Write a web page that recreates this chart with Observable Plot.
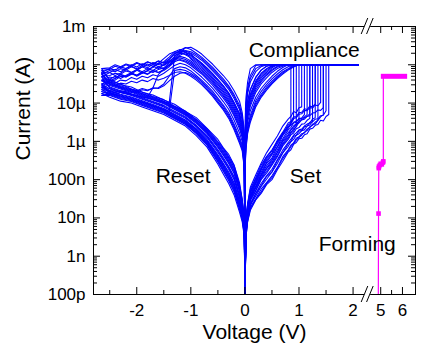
<!DOCTYPE html>
<html><head><meta charset="utf-8">
<script src="https://cdn.jsdelivr.net/npm/d3@7"></script>
<script src="https://cdn.jsdelivr.net/npm/@observablehq/plot@0.6"></script>
<style>body{margin:0;background:#fff}</style>
</head><body><div id="chart"></div>
<script>
// ---------- data (log10 of current in A) ----------
// set (HRS, positive forward) voltage grid; each cycle ends at its set voltage
const vSet = [0.02,0.05,0.1,0.2,0.3,0.4,0.5,0.6,0.7,0.8,0.85,0.9,0.95,1.0,1.05,1.1,1.15,1.2,1.25,1.3,1.35,1.4,1.45,1.5,1.55];
const setCur = [
 [-8.0,-7.62,-7.2,-6.88,-6.57,-6.3,-6.08,-5.86,-5.6,-5.42,-5.35,-5.22,-5.25,-5.12,-5.1],
 [-8.1,-7.66,-7.3,-6.98,-6.69,-6.41,-6.25,-5.97,-5.76,-5.52,-5.48,-5.36,-5.35,-5.25,-5.24,-5.15,-5.17,-5.08,-5.1,-5.02],
 [-8.15,-7.74,-7.4,-7.08,-6.8,-6.55,-6.35,-6.14,-5.85,-5.66,-5.55],
 [-8.22,-7.85,-7.46,-7.2,-6.9,-6.7,-6.5,-6.28,-6.0,-5.83,-5.7,-5.65,-5.55,-5.52,-5.44,-5.42,-5.35,-5.33,-5.26,-5.25,-5.18,-5.19,-5.12],
 [-8.3,-7.92,-7.55,-7.3,-7.0,-6.83,-6.62,-6.4,-6.12,-5.95,-5.83,-5.78,-5.67,-5.64,-5.55,-5.54,-5.45,-5.4],
 [-8.4,-7.97,-7.66,-7.37,-7.16,-6.92,-6.8,-6.5,-6.3,-6.06,-6.0,-5.87,-5.84,-5.73,-5.72,-5.62,-5.6,-5.5,-5.49,-5.42,-5.41,-5.33,-5.32,-5.2],
 [-8.45,-8.06,-7.72,-7.5,-7.25,-7.08,-6.9,-6.68,-6.4,-6.22,-6.1,-6.04,-5.92,-5.88,-5.8,-5.78,-5.68,-5.64,-5.55,-5.55,-5.45],
 [-8.5,-8.1,-7.8,-7.53,-7.36,-7.13,-7.0,-6.74,-6.52,-6.28,-6.22,-6.08,-6.03,-5.93,-5.92,-5.83,-5.8,-5.68,-5.66,-5.58,-5.56,-5.45,-5.47,-5.35,-5.3],
 [-8.18,-7.77,-7.42,-7.12,-6.85,-6.58,-6.43,-6.15,-5.93,-5.7,-5.64,-5.52,-5.5,-5.4,-5.39,-5.3],
 [-8.27,-7.9,-7.52,-7.27,-6.97,-6.78,-6.58,-6.36,-6.08,-5.91,-5.79,-5.73,-5.6],
 [-8.1,-7.71,-7.33,-7.02,-6.72,-6.46,-6.3,-6.02,-5.8,-5.57,-5.52,-5.4,-5.38,-5.29,-5.28,-5.19,-5.2,-5.12,-5.13,-5.05,-5.07,-4.98],
 [-8.4,-8.0,-7.67,-7.43,-7.18,-6.99,-6.8,-6.58,-6.3,-6.13,-6.01,-5.95,-5.84,-5.8,-5.72,-5.7,-5.6,-5.57,-5.48],
 [-8.03,-7.65,-7.25,-6.95,-6.62,-6.4,-6.22,-6.0,-5.78,-5.62,-5.58,-5.5,-5.47,-5.42,-5.4,-5.36,-5.3],
 [-8.25,-7.86,-7.5,-7.22,-6.95,-6.72,-6.55,-6.3,-6.05,-5.86,-5.76,-5.68,-5.62,-5.5],
 [-8.35,-7.95,-7.62,-7.36,-7.1,-6.9,-6.73,-6.48,-6.23,-6.03,-5.94,-5.84,-5.78,-5.7,-5.68,-5.6,-5.55,-5.52,-5.42,-5.38],
 [-8.12,-7.72,-7.35,-7.06,-6.75,-6.5,-6.33,-6.07,-5.82,-5.62,-5.53,-5.42],
 [-8.48,-8.08,-7.76,-7.52,-7.32,-7.1,-6.95,-6.7,-6.45,-6.25,-6.14,-6.06,-5.96,-5.9,-5.84,-5.76,-5.72,-5.62,-5.58,-5.5,-5.45,-5.36,-5.3],
 [-8.2,-7.8,-7.45,-7.17,-6.88,-6.64,-6.47,-6.22,-5.97,-5.77,-5.69,-5.6,-5.54,-5.47,-5.43,-5.38,-5.35,-5.28]
];
const compliance = -4;   // 100 µA
// LRS positive return
const vLrs = [2.1,1.1,1.0,0.9,0.8,0.7,0.6,0.5,0.4,0.3,0.2,0.1,0.05,0.02,0.01,0];
const lrsCur = [
 [-4,-4,-4,-4,-4,-4,-4,-4,-4,-4,-4.02,-4.28,-4.6,-5.0,-5.3,-10],
 [-4,-4,-4,-4,-4,-4.02,-4.06,-4.15,-4.28,-4.44,-4.66,-5.02,-5.33,-5.72,-6.02,-10],
 [-4,-4,-4,-4,-4,-4,-4,-4,-4.04,-4.14,-4.33,-4.65,-4.95,-5.35,-5.65,-10],
 [-4,-4,-4,-4.02,-4.1,-4.18,-4.3,-4.43,-4.58,-4.77,-5.0,-5.38,-5.68,-6.08,-6.38,-10],
 [-4,-4,-4,-4,-4,-4,-4,-4.05,-4.16,-4.3,-4.5,-4.84,-5.14,-5.54,-5.84,-10],
 [-4,-4,-4,-4.06,-4.14,-4.24,-4.36,-4.5,-4.66,-4.85,-5.1,-5.5,-5.8,-6.2,-6.5,-10],
 [-4,-4,-4,-4,-4,-4,-4,-4,-4,-4.05,-4.18,-4.45,-4.75,-5.15,-5.45,-10],
 [-4,-4,-4,-4,-4,-4.07,-4.17,-4.3,-4.45,-4.62,-4.85,-5.2,-5.5,-5.9,-6.2,-10],
 [-4,-4,-4,-4,-4,-4,-4,-4,-4,-4,-4,-4.1,-4.45,-4.85,-5.15,-10],
 [-4,-4,-4,-4,-4,-4,-4,-4.08,-4.2,-4.35,-4.55,-4.9,-5.2,-5.6,-5.9,-10],
 [-4,-4,-4,-4,-4.05,-4.13,-4.24,-4.37,-4.52,-4.7,-4.94,-5.32,-5.62,-6.02,-6.32,-10],
 [-4,-4,-4,-4,-4,-4,-4,-4.02,-4.1,-4.22,-4.42,-4.76,-5.06,-5.46,-5.76,-10],
 [-4,-4,-4,-4,-4,-4.04,-4.1,-4.2,-4.34,-4.5,-4.72,-5.08,-5.39,-5.79,-6.09,-10],
 [-4,-4,-4,-4,-4,-4,-4,-4,-4,-4.02,-4.1,-4.36,-4.68,-5.08,-5.38,-10],
 [-4,-4,-4,-4,-4,-4,-4,-4.03,-4.12,-4.25,-4.46,-4.8,-5.1,-5.5,-5.8,-10],
 [-4,-4,-4,-4.04,-4.12,-4.21,-4.33,-4.47,-4.62,-4.81,-5.05,-5.44,-5.74,-6.14,-6.44,-10],
 [-4,-4,-4,-4,-4,-4,-4.04,-4.12,-4.24,-4.4,-4.6,-4.96,-5.27,-5.66,-5.96,-10],
 [-4,-4,-4,-4,-4,-4,-4,-4,-4.04,-4.14,-4.33,-4.65,-4.95,-5.35,-5.65,-10]
];
// negative forward sweep (LRS, then reset)
const vReset = [0,-0.01,-0.02,-0.05,-0.1,-0.2,-0.3,-0.4,-0.5,-0.6,-0.7,-0.8,-0.9,-1.0,-1.1,-1.2,-1.3,-1.4,-1.5,-1.6,-1.7,-1.8,-1.9,-2.0,-2.1,-2.2,-2.3,-2.4,-2.5,-2.65];
const resetCur = [
 [-10,-6.0,-5.7,-5.35,-5.06,-4.78,-4.55,-4.37,-4.22,-4.06,-3.93,-3.8,-3.7,-3.6,-3.55,-3.62,-3.78,-3.92,-4.0,-4.05,-3.98,-4.08,-4.02,-4.1,-4.05,-4.14,-4.1,-4.18,-4.15,-4.25],
 [-10,-6.5,-6.2,-5.85,-5.61,-5.29,-5.02,-4.82,-4.65,-4.48,-4.34,-4.2,-4.09,-3.98,-3.9,-3.86,-3.92,-4.05,-4.15,-4.2,-4.14,-4.24,-4.18,-4.27,-4.22,-4.3,-4.25,-4.35,-4.32,-4.4],
 [-10,-6.2,-5.9,-5.55,-5.28,-4.99,-4.74,-4.55,-4.39,-4.23,-4.09,-3.96,-3.85,-3.72,-3.68,-3.75,-3.9,-4.02,-4.1,-4.06,-4.15,-4.1,-4.18,-4.12,-4.2,-4.16,-4.25,-4.22,-4.28,-4.3],
 [-10,-6.8,-6.5,-6.15,-5.94,-5.6,-5.31,-5.09,-4.91,-4.74,-4.58,-4.44,-4.32,-4.22,-4.15,-4.12,-4.15,-5.22,-5.18,-5.12,-5.08,-5.02,-4.98,-4.95,-4.9,-4.86,-4.82,-4.78,-4.74,-4.7],
 [-10,-6.35,-6.05,-5.7,-5.45,-5.14,-4.88,-4.69,-4.52,-4.36,-4.21,-4.08,-3.97,-3.85,-3.66,-3.63,-3.72,-3.85,-3.95,-3.9,-3.98,-3.93,-4.02,-3.96,-4.05,-4.0,-4.08,-4.04,-4.12,-4.15],
 [-10,-6.9,-6.6,-6.25,-6.05,-5.7,-5.4,-5.18,-5.0,-4.82,-4.66,-4.52,-4.4,-4.3,-4.22,-4.18,-4.2,-4.28,-4.35,-4.4,-4.36,-4.44,-4.4,-4.47,-4.43,-4.5,-4.48,-4.55,-4.52,-4.6],
 [-10,-6.1,-5.8,-5.45,-5.17,-4.88,-4.64,-4.46,-4.3,-4.15,-4.01,-3.88,-3.78,-3.7,-3.64,-3.6,-3.66,-3.8,-3.92,-4.0,-3.94,-4.03,-3.97,-4.06,-4.0,-4.1,-4.05,-4.14,-4.1,-4.2],
 [-10,-6.65,-6.35,-6.0,-5.78,-5.45,-5.16,-4.96,-4.78,-4.61,-4.46,-4.32,-4.2,-4.08,-4.0,-3.96,-4.02,-4.12,-4.22,-4.3,-4.26,-4.34,-4.3,-4.38,-4.33,-4.42,-4.4,-4.48,-4.46,-4.55],
 [-10,-5.9,-5.6,-5.25,-4.95,-4.68,-4.45,-4.28,-4.13,-3.98,-3.85,-3.72,-3.62,-3.54,-3.56,-3.68,-3.82,-3.9,-3.96,-3.9,-3.98,-3.92,-4.0,-3.94,-4.02,-3.98,-4.05,-4.0,-4.08,-4.1],
 [-10,-6.4,-6.1,-5.75,-5.5,-5.19,-4.93,-4.73,-4.57,-4.4,-4.26,-4.12,-4.01,-3.9,-3.82,-3.78,-3.85,-4.0,-4.12,-4.2,-4.16,-4.25,-4.2,-4.28,-4.24,-4.32,-4.3,-4.4,-4.42,-4.5],
 [-10,-6.75,-6.45,-6.1,-5.89,-5.55,-5.26,-5.05,-4.87,-4.69,-4.54,-4.4,-4.28,-4.16,-4.08,-4.05,-4.1,-4.3,-4.5,-4.6,-4.62,-4.66,-4.62,-4.68,-4.64,-4.7,-4.68,-4.73,-4.7,-4.75],
 [-10,-6.25,-5.95,-5.6,-5.34,-5.04,-4.78,-4.6,-4.43,-4.27,-4.13,-4.0,-3.89,-3.78,-3.72,-3.7,-3.76,-5.0,-4.98,-4.95,-4.9,-4.87,-4.84,-4.8,-4.77,-4.74,-4.72,-4.69,-4.67,-4.65],
 [-10,-6.55,-6.25,-5.9,-5.67,-5.34,-5.07,-4.87,-4.7,-4.53,-4.38,-4.24,-4.13,-4.02,-3.93,-3.88,-3.86,-3.95,-4.08,-4.12,-4.2,-4.15,-4.22,-4.3,-4.2,-4.28,-4.36,-4.3,-4.38,-4.42],
 [-10,-6.05,-5.75,-5.4,-5.12,-4.83,-4.59,-4.42,-4.26,-4.11,-3.97,-3.84,-3.74,-3.66,-3.63,-3.7,-3.85,-4.0,-4.12,-4.25,-4.6,-4.85,-4.84,-4.8,-4.78,-4.75,-4.7,-4.68,-4.62,-4.58],
 [-10,-6.3,-6.0,-5.65,-5.39,-5.09,-4.83,-4.64,-4.48,-4.32,-4.17,-4.04,-3.93,-3.82,-3.74,-3.68,-3.66,-3.72,-3.84,-3.96,-4.04,-3.98,-4.06,-4.12,-4.04,-4.1,-4.18,-4.12,-4.2,-4.22],
 [-10,-6.85,-6.55,-6.2,-6.0,-5.65,-5.35,-5.14,-4.96,-4.78,-4.62,-4.48,-4.36,-4.26,-4.2,-4.22,-4.3,-4.42,-4.55,-4.62,-4.6,-4.68,-4.65,-4.72,-4.7,-4.75,-4.72,-4.78,-4.76,-4.8],
 [-10,-6.45,-6.15,-5.8,-5.56,-5.24,-4.97,-4.78,-4.61,-4.44,-4.3,-4.16,-4.05,-3.94,-3.86,-3.82,-3.84,-3.93,-4.02,-3.96,-4.07,-4.12,-4.05,-4.15,-4.2,-4.12,-4.22,-4.28,-4.2,-4.32],
 [-10,-6.2,-5.9,-5.55,-5.28,-4.99,-4.74,-4.55,-4.39,-4.23,-4.09,-3.96,-3.85,-3.75,-3.68,-3.64,-3.7,-3.86,-4.0,-4.1,-4.04,-4.16,-4.22,-4.14,-4.25,-4.32,-4.26,-4.36,-4.42,-4.5]
];
// HRS negative return
const vHrs = [-2.65,-2.5,-2.3,-2.1,-1.9,-1.7,-1.5,-1.3,-1.1,-0.9,-0.7,-0.5,-0.4,-0.3,-0.2,-0.1,-0.05,-0.02,-0.01,0];
const hrsCur = [
 [-4.25,-4.45,-4.55,-4.64,-4.75,-4.84,-4.95,-5.09,-5.24,-5.44,-5.7,-6.03,-6.22,-6.43,-6.68,-7.18,-7.56,-7.95,-8.24,-10],
 [-4.4,-4.58,-4.68,-4.76,-4.86,-4.96,-5.06,-5.21,-5.36,-5.58,-5.85,-6.22,-6.43,-6.66,-6.92,-7.4,-7.74,-8.1,-8.36,-10],
 [-4.3,-4.49,-4.59,-4.68,-4.78,-4.88,-4.98,-5.13,-5.28,-5.49,-5.75,-6.1,-6.29,-6.51,-6.76,-7.25,-7.62,-8.0,-8.28,-10],
 [-4.7,-4.78,-4.88,-4.94,-5.04,-5.14,-5.24,-5.39,-5.54,-5.78,-6.08,-6.51,-6.75,-6.99,-7.28,-7.74,-8.01,-8.33,-8.54,-10],
 [-4.15,-4.38,-4.52,-4.58,-4.72,-4.79,-4.92,-5.03,-5.22,-5.38,-5.66,-5.95,-6.17,-6.34,-6.62,-7.08,-7.52,-7.88,-8.2,-10],
 [-4.6,-4.72,-4.81,-4.88,-4.98,-5.08,-5.18,-5.33,-5.48,-5.71,-6.0,-6.41,-6.64,-6.88,-7.16,-7.63,-7.92,-8.25,-8.48,-10],
 [-4.2,-4.54,-4.63,-4.72,-4.82,-4.92,-5.02,-5.17,-5.32,-5.53,-5.8,-6.16,-6.36,-6.58,-6.84,-7.32,-7.68,-8.05,-8.32,-10],
 [-4.55,-4.67,-4.77,-4.84,-4.94,-5.04,-5.14,-5.29,-5.44,-5.67,-5.95,-6.35,-6.57,-6.8,-7.08,-7.55,-7.86,-8.2,-8.44,-10],
 [-4.1,-4.42,-4.5,-4.63,-4.71,-4.83,-4.91,-5.08,-5.21,-5.43,-5.67,-6.01,-6.18,-6.4,-6.63,-7.14,-7.53,-7.93,-8.22,-10],
 [-4.5,-4.63,-4.72,-4.8,-4.9,-5.0,-5.1,-5.25,-5.4,-5.62,-5.9,-6.29,-6.5,-6.73,-7.0,-7.48,-7.8,-8.15,-8.4,-10],
 [-4.75,-4.85,-4.95,-5.0,-5.1,-5.2,-5.3,-5.45,-5.6,-5.85,-6.15,-6.6,-6.85,-7.1,-7.4,-7.85,-8.1,-8.4,-8.6,-10],
 [-4.65,-4.76,-4.86,-4.92,-5.02,-5.12,-5.22,-5.37,-5.52,-5.76,-6.05,-6.47,-6.71,-6.95,-7.24,-7.7,-7.98,-8.3,-8.52,-10],
 [-4.42,-4.47,-4.57,-4.66,-4.76,-4.86,-4.96,-5.11,-5.26,-5.47,-5.73,-6.06,-6.26,-6.47,-6.72,-7.21,-7.59,-7.98,-8.26,-10],
 [-4.58,-4.69,-4.79,-4.86,-4.96,-5.06,-5.16,-5.31,-5.46,-5.69,-5.98,-6.38,-6.6,-6.84,-7.12,-7.59,-7.89,-8.23,-8.46,-10],
 [-4.22,-4.51,-4.61,-4.7,-4.8,-4.9,-5.0,-5.15,-5.3,-5.51,-5.78,-6.13,-6.33,-6.55,-6.8,-7.29,-7.65,-8.03,-8.3,-10],
 [-4.8,-4.8,-4.9,-4.96,-5.06,-5.16,-5.26,-5.41,-5.56,-5.8,-6.1,-6.54,-6.78,-7.03,-7.32,-7.78,-8.04,-8.35,-8.56,-10],
 [-4.32,-4.6,-4.7,-4.78,-4.88,-4.98,-5.08,-5.23,-5.38,-5.6,-5.88,-6.25,-6.47,-6.69,-6.96,-7.44,-7.77,-8.13,-8.38,-10],
 [-4.5,-4.74,-4.84,-4.9,-5.0,-5.1,-5.2,-5.35,-5.5,-5.74,-6.03,-6.44,-6.67,-6.92,-7.2,-7.66,-7.95,-8.28,-8.5,-10]
];
// forming sweep (V, A)
const formV = [4.89, 4.9, 4.91, 4.92, 4.96, 5.0, 5.05, 5.1, 5.12, 5.12, 5.12, 6.1];
const formI = [1e-10, 1.3e-8, 2.0e-7, 2.2e-7, 2.4e-7, 2.6e-7, 2.5e-7, 2.8e-7, 3e-7, 4e-6, 5e-5, 5e-5];

// axis ticks & labels
const yMajor = [1e-10,1e-9,1e-8,1e-7,1e-6,1e-5,1e-4,1e-3];
const yLabels = ["100p","1n","10n","100n","1µ","10µ","100µ","1m"];
const xMajorL = [-2,-1,0,1,2], xMinorL = [-2.5,-1.5,-0.5,0.5,1.5];
const xMajorR = [5,6], xMinorR = [5.5];
const annotations = [
  {text: "Compliance", x: 0.07, y: 2.4e-4},
  {text: "Reset", x: -1.65, y: 1.2e-7},
  {text: "Set", x: 0.83, y: 1.26e-7},
  {text: "Forming", x: 1.365, y: 2.1e-9}
];

// ---------- broken x axis: left panel -2.8..2.27 V, right panel 4.4..6.6 V ----------
const xMin = -2.8, breakDisp = 2.27, rightStart = 4.4, rightEnd = 6.6, rightScale = 0.402;
const toDisp = v => v <= breakDisp ? v : breakDisp + (v - rightStart) * rightScale;

// ---------- build rows ----------
const rows = [];
for (let k = 0; k < setCur.length; k++) {
  const pts = [[0, -10]];
  setCur[k].forEach((l, j) => pts.push([vSet[j], l]));
  const sv = vSet[setCur[k].length - 1];
  pts.push([sv, compliance]);
  lrsCur[k].forEach((l, j) => pts.push([vLrs[j], l]));
  resetCur[k].forEach((l, j) => pts.push([vReset[j], l]));
  hrsCur[k].forEach((l, j) => pts.push([vHrs[j], l]));
  pts.forEach(([v, l]) => rows.push({cycle: k, x: v, y: Math.pow(10, l)}));
}
const formRows = formV.map((v, i) => ({x: toDisp(v), y: formI[i]}));
const formMarks = formRows.filter(d => d.y > 1e-8 && d.y < 1e-6);
const formComp = formRows.filter(d => d.y >= 5e-5);

const W = 421, H = 352, mL = 93, mR = 6, mT = 26, mB = 58;
const fw = W - mL - mR, fh = H - mT - mB;
const xMajor = [...xMajorL, ...xMajorR.map(toDisp)];
const xMajorLab = [...xMajorL, ...xMajorR].map(String);
const xMinor = [...xMinorL, ...xMinorR.map(toDisp)];
const yMinor = [];
for (let e = -10; e < -3; e++) for (let m = 2; m <= 9; m++) yMinor.push(m * Math.pow(10, e));

function breakMark(...args) {
  const scales = args.find(a => a && typeof a.x === "function");
  const dims = args.find(a => a && a.marginTop !== undefined && a.height !== undefined);
  const g = d3.create("svg:g");
  const xb = scales.x(breakDisp);
  const yT = dims.marginTop, yB = dims.height - dims.marginBottom;
  for (const y0 of [yT, yB]) {
    g.append("rect").attr("x", xb - 3).attr("y", y0 - 2).attr("width", 6).attr("height", 4).attr("fill", "white");
    for (const o of [-2.7, 2.7]) {
      g.append("line").attr("x1", xb + o - 3.3).attr("y1", y0 + 8).attr("x2", xb + o + 3.3).attr("y2", y0 - 8)
        .attr("stroke", "black").attr("stroke-width", 1);
    }
  }
  return g.node();
}

const chart = Plot.plot({
  width: W, height: H, marginLeft: mL, marginRight: mR, marginTop: mT, marginBottom: mB,
  style: {fontFamily: "'Liberation Sans', Arial, sans-serif", fontSize: "17px", background: "white", color: "black"},
  x: {domain: [xMin, toDisp(rightEnd)], label: null},
  y: {type: "log", domain: [1e-10, 1e-3], label: null},
  marks: [
    Plot.line(rows, {x: "x", y: "y", z: "cycle", stroke: "#0000ff", strokeWidth: 1.1, clip: true}),
    Plot.line(formRows, {x: "x", y: "y", stroke: "#ff00ff", strokeWidth: 1.2, clip: true}),
    Plot.line(formComp, {x: "x", y: "y", stroke: "#ff00ff", strokeWidth: 5, strokeLinecap: "square"}),
    Plot.dot(formMarks, {x: "x", y: "y", symbol: "square", r: 2.6, fill: "#ff00ff"}),
    Plot.frame({stroke: "black"}),
    // inward ticks, four sides
    Plot.tickX(xMajor, {x: d => d, insetTop: fh - 7, stroke: "black"}),
    Plot.tickX(xMinor, {x: d => d, insetTop: fh - 4, stroke: "black"}),
    Plot.tickX(xMajor, {x: d => d, insetBottom: fh - 7, stroke: "black"}),
    Plot.tickX(xMinor, {x: d => d, insetBottom: fh - 4, stroke: "black"}),
    Plot.tickY(yMajor, {y: d => d, insetRight: fw - 7, stroke: "black"}),
    Plot.tickY(yMinor, {y: d => d, insetRight: fw - 4, stroke: "black"}),
    Plot.tickY(yMajor, {y: d => d, insetLeft: fw - 7, stroke: "black"}),
    Plot.tickY(yMinor, {y: d => d, insetLeft: fw - 4, stroke: "black"}),
    breakMark,
    Plot.axisY(yMajor, {anchor: "left", tickSize: 0, tickPadding: 8, fontSize: 17,
      tickFormat: d => yLabels[yMajor.indexOf(d)], label: null}),
    Plot.axisX(xMajor, {anchor: "bottom", tickSize: 0, tickPadding: 9, fontSize: 17,
      tickFormat: d => xMajorLab[xMajor.indexOf(d)], label: null}),
    Plot.text(annotations, {x: "x", y: "y", text: "text", textAnchor: "start", lineAnchor: "middle", fontSize: 21, fill: "black"}),
    Plot.text(["Voltage (V)"], {text: d => d, frameAnchor: "bottom", dy: 38, lineAnchor: "middle", fontSize: 21, fill: "black"}),
    Plot.text(["Current (A)"], {text: d => d, frameAnchor: "left", dx: -70, rotate: -90, lineAnchor: "middle", fontSize: 21, fill: "black"})
  ]
});
document.getElementById("chart").appendChild(chart);
</script></body></html>
